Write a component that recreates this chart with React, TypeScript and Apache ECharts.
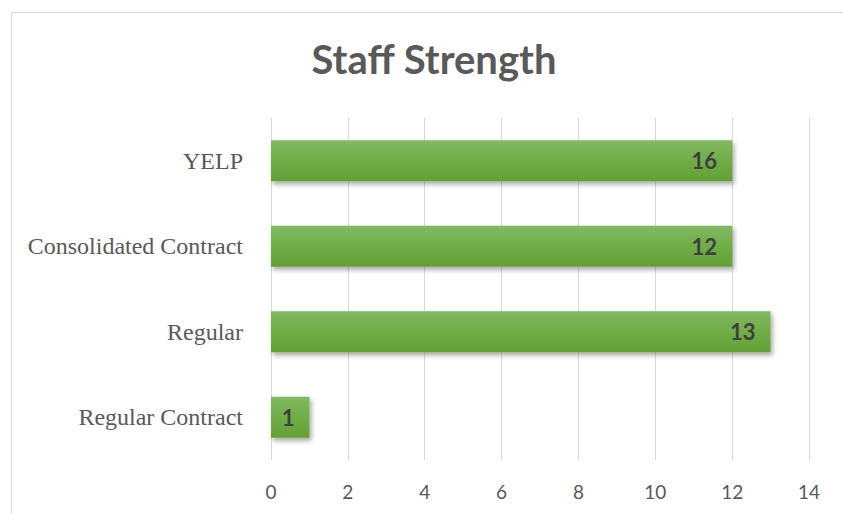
import React, { useEffect, useRef } from "react";
import * as echarts from "echarts";

const categories = ["Regular Contract", "Regular", "Consolidated Contract", "YELP"];
const barValues = [1, 13, 12, 12];
const barLabels = ["1", "13", "12", "16"];
const xTicks = [0, 2, 4, 6, 8, 10, 12, 14];

export default function App() {
  const ref = useRef<HTMLDivElement>(null);
  useEffect(() => {
    if (!ref.current) return;
    const chart = echarts.init(ref.current, null, { renderer: "svg" });
    chart.setOption({
      animation: false,
      backgroundColor: "#ffffff",
      title: {
        text: "Staff Strength",
        left: 429,
        textAlign: "center",
        top: 34,
        textStyle: { fontFamily: "Lato", fontWeight: "bold", fontSize: 40, color: "#595959" },
      },
      graphic: [
        {
          type: "rect",
          shape: { x: 11.5, y: 12.5, width: 900, height: 600 },
          style: { fill: "none", stroke: "#d9d9d9", lineWidth: 1 },
          silent: true,
        },
      ],
      grid: { left: 271, right: 34, top: 118, bottom: 54 },
      xAxis: {
        type: "value",
        min: xTicks[0],
        max: xTicks[xTicks.length - 1],
        interval: 2,
        axisLine: { show: false },
        axisTick: { show: false },
        splitLine: { show: true, lineStyle: { color: "#d9d9d9", width: 1 } },
        axisLabel: {
          fontFamily: "Lato",
          fontSize: 19,
          color: "#595959",
          margin: 22,
        },
      },
      yAxis: {
        type: "category",
        data: categories,
        axisLine: { show: false },
        axisTick: { show: false },
        axisLabel: {
          fontFamily: "Liberation Serif",
          fontSize: 24,
          color: "#595959",
          margin: 28,
        },
      },
      series: [
        {
          type: "bar",
          data: barValues,
          barWidth: "48%",
          itemStyle: {
            color: new echarts.graphic.LinearGradient(0, 0, 0, 1, [
              { offset: 0, color: "#82ba62" },
              { offset: 0.5, color: "#70ad47" },
              { offset: 1, color: "#62a135" },
            ]),
            shadowColor: "rgba(0,0,0,0.35)",
            shadowBlur: 5,
            shadowOffsetX: 2,
            shadowOffsetY: 3,
          },
          label: {
            show: true,
            position: "insideRight",
            distance: 15,
            formatter: (p: any) => barLabels[p.dataIndex],
            fontFamily: "Lato",
            fontWeight: "bold",
            fontSize: 22,
            color: "#404040",
          },
        },
      ],
    });
    return () => chart.dispose();
  }, []);
  return (
    <div
      ref={ref}
      style={{ position: "fixed", left: 0, top: 0, width: 843, height: 514 }}
    />
  );
}
